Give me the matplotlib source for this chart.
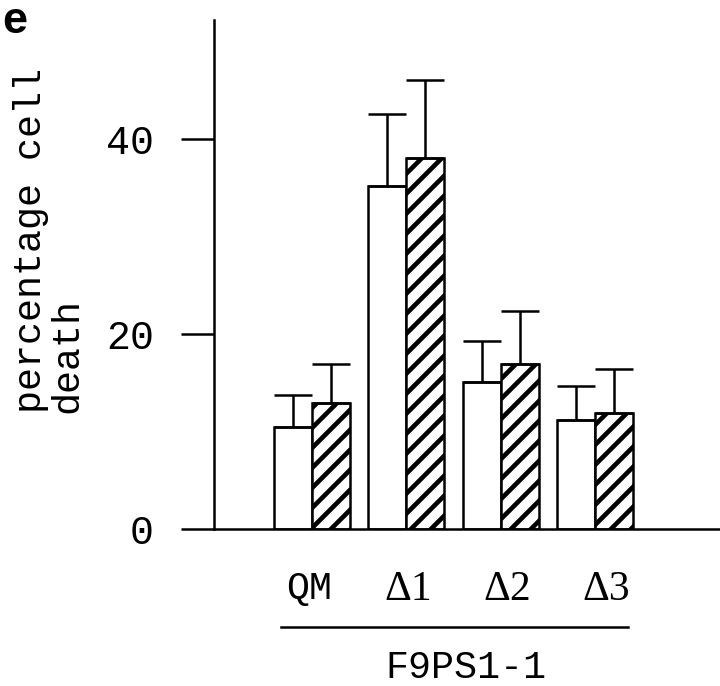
import numpy as np
import matplotlib
matplotlib.use("Agg")
import matplotlib.pyplot as plt
import matplotlib.transforms as mtransforms

# datos
grupos = ["QM", "Δ1", "Δ2", "Δ3"]
blancas = [10.5, 35.2, 15.1, 11.2]
blancas_err = [3.2, 7.4, 4.2, 3.5]
rayadas = [12.9, 38.0, 16.9, 11.9]
rayadas_err = [4.0, 8.0, 5.5, 4.5]
yticks = [0, 20, 40]

plt.rcParams["hatch.linewidth"] = 2.8
mono = "Liberation Mono"
serif = "Liberation Serif"

fig = plt.figure(figsize=(6, 686 / 120), dpi=120)
ax = fig.add_axes([214 / 720, (686 - 529) / 686, (720 - 214) / 720, 509 / 686])

x = np.arange(len(grupos))
ancho = 0.40
err_kw = dict(ecolor="black", elinewidth=1.5, capsize=11.5, capthick=1.5)

ax.bar(x - ancho / 2, blancas, ancho, color="white", edgecolor="black", linewidth=1.5,
       yerr=[np.zeros(len(blancas)), blancas_err], error_kw=err_kw, zorder=2)
ax.bar(x + ancho / 2, rayadas, ancho, color="white", edgecolor="black", linewidth=1.5,
       hatch="//", yerr=[np.zeros(len(rayadas)), rayadas_err], error_kw=err_kw, zorder=2)

ax.set_xlim(-1.035, 4.32)
ax.set_ylim(0, 52.2)

for lado in ["top", "right"]:
    ax.spines[lado].set_visible(False)
ax.spines["left"].set_linewidth(1.5)
ax.spines["bottom"].set_linewidth(1.5)

ax.set_yticks(yticks)
ax.set_yticklabels([str(v) for v in yticks], fontfamily=mono, fontsize=24)
ax.tick_params(axis="y", direction="out", length=20, width=1.5, pad=16)

ax.set_xticks(x * 1.05 - 0.03)
ax.set_xticklabels(grupos, fontsize=25)
for lab in ax.get_xticklabels():
    lab.set_fontfamily(mono if lab.get_text() == "QM" else serif)
    if lab.get_text() == "QM":
        lab.set_fontsize(23)
ax.tick_params(axis="x", length=0, pad=25)

# linea bajo los grupos
trans = mtransforms.blended_transform_factory(ax.transData, ax.transAxes)
ax.plot([x[0] - 0.33, x[-1] + 0.35], [-0.1925, -0.1925], color="black", lw=1.5,
        transform=trans, clip_on=False)
ax.text((x[0] + x[-1]) / 2 + 0.13, -0.292, "F9PS1-1", transform=trans, ha="center",
        va="baseline", fontfamily=mono, fontsize=23)

fig.text(13 / 720, 1 - 413 / 686, "percentage cell\ndeath", rotation=90, ha="left",
         va="bottom", multialignment="left", fontfamily=mono, fontsize=23,
         linespacing=1.0)
fig.text(2 / 720, 1 - 1 / 686, "e", ha="left", va="top", fontweight="bold",
         fontfamily="Liberation Sans", fontsize=27)

fig.savefig("out.png", dpi=120)
